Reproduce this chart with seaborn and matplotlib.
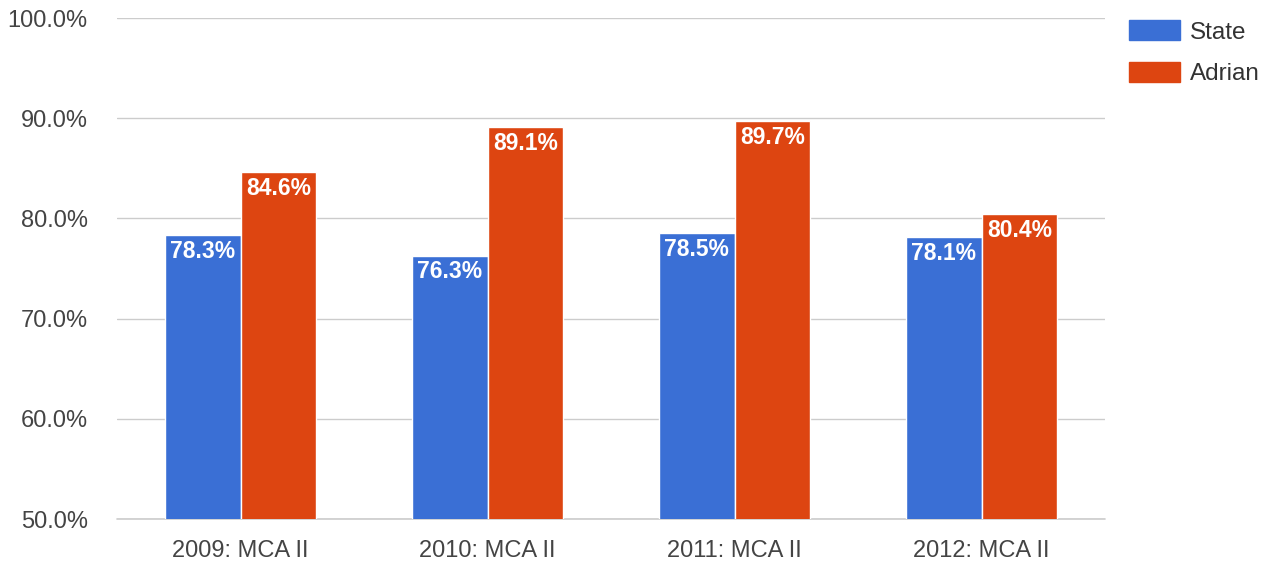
import matplotlib
matplotlib.use('Agg')
import matplotlib.pyplot as plt
import numpy as np
import pandas as pd
import seaborn as sns

# chart data
years = ['2009: MCA II', '2010: MCA II', '2011: MCA II', '2012: MCA II']
state = [78.3, 76.3, 78.5, 78.1]
adrian = [84.6, 89.1, 89.7, 80.4]
series = ['State', 'Adrian']
colors = ['#3a6fd5', '#dd4511']

df = pd.DataFrame({
    'year': years * 2,
    'value': state + adrian,
    'series': ['State'] * len(years) + ['Adrian'] * len(years),
})

sns.set_style('white')
plt.rcParams['font.family'] = ['Liberation Sans', 'DejaVu Sans']

fig = plt.figure(figsize=(12.76, 5.65), dpi=100)
ax = fig.add_axes([0.0917, 0.0814, 0.7743, 0.8866])

sns.barplot(data=df, x='year', y='value', hue='series', hue_order=series,
            palette=colors, width=0.615, edgecolor='white', linewidth=1,
            saturation=1, ax=ax, legend=False)

ax.set_ylim(50, 100)
ax.set_xlim(-0.5, 3.5)
ax.set_yticks(np.arange(50, 101, 10))
ax.set_yticklabels(['{:.1f}%'.format(v) for v in np.arange(50, 101, 10)])
ax.yaxis.grid(True, color='#cccccc', linewidth=1)
ax.set_axisbelow(True)
for s in ax.spines.values():
    s.set_visible(False)
ax.axhline(50, color='#cccccc', linewidth=1.2, clip_on=False, zorder=0.5)
ax.tick_params(axis='both', length=0, labelsize=17, colors='#444444')
ax.tick_params(axis='y', pad=21)
ax.tick_params(axis='x', pad=15)
ax.set_xlabel('')
ax.set_ylabel('')

for cont in ax.containers:
    for bar in cont:
        h = bar.get_height()
        ax.text(bar.get_x() + bar.get_width() / 2, h - 0.45, '{:.1f}%'.format(h),
                ha='center', va='top', color='white', fontsize=16.5,
                fontweight='bold')

handles = [plt.Rectangle((0, 0), 1, 1, color=c) for c in colors]
fig.legend(handles, series, loc='upper left', bbox_to_anchor=(0.868, 1.003),
           frameon=False, fontsize=17.5, handlelength=2.1, handleheight=0.9,
           labelspacing=0.75, handletextpad=0.4, labelcolor='#333333')

fig.savefig('out.png', dpi=100, facecolor='white')
